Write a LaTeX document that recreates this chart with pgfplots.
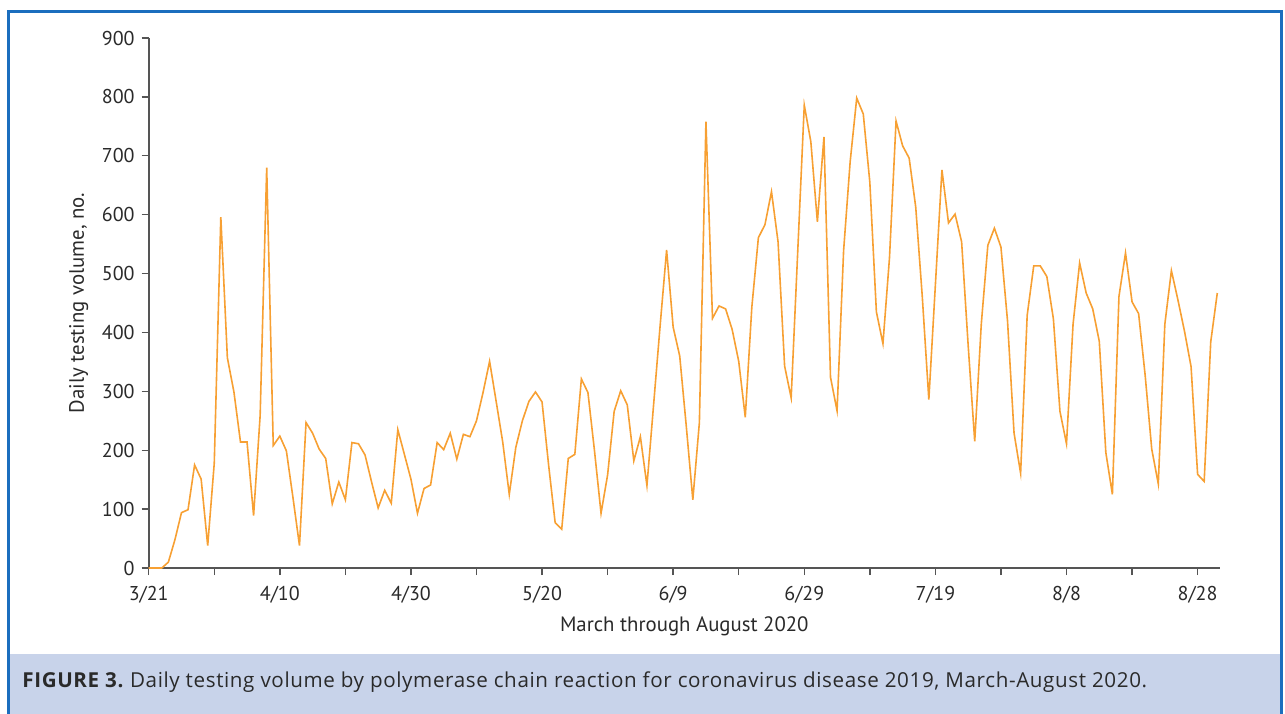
\documentclass[border=0pt]{standalone}
\usepackage{fontspec}
\setmainfont{PT Sans}
\newfontfamily\capfont[LetterSpace=3]{Open Sans}
\usepackage{pgfplots}
\pgfplotsset{compat=1.18}
\definecolor{lineOr}{HTML}{F7A033}
\definecolor{frameB}{HTML}{1B6EBE}
\definecolor{capB}{HTML}{C8D3EA}
\definecolor{axisG}{HTML}{555555}
\definecolor{txtG}{HTML}{2A2A2A}

\pgfplotstableread{
day val
0 0
1 0
2 0
3 10
4 48
5 94
6 99
7 175
8 151
9 38
10 178
11 596
12 357
13 299
14 214
15 214
16 89
17 259
18 680
19 208
20 224
21 199
22 120
23 38
24 247
25 229
26 202
27 186
28 109
29 146
30 116
31 213
32 211
33 192
34 146
35 102
36 132
37 110
38 235
39 193
40 151
41 93
42 135
43 141
44 213
45 201
46 229
47 185
48 227
49 223
50 250
51 298
52 351
53 283
54 214
55 125
56 205
57 250
58 283
59 299
60 282
61 175
62 77
63 66
64 186
65 193
66 321
67 298
68 199
69 93
70 158
71 266
72 301
73 277
74 182
75 223
76 140
77 275
78 410
79 540
80 409
81 360
82 241
83 116
84 247
85 758
86 424
87 445
88 440
89 405
90 351
91 256
92 443
93 561
94 583
95 639
96 554
97 343
98 289
99 537
100 786
101 724
102 588
103 732
104 324
105 267
106 539
107 690
108 798
109 771
110 655
111 435
112 381
113 527
114 759
115 717
116 696
117 613
118 461
119 286
120 481
121 676
122 586
123 601
124 554
125 378
126 215
127 414
128 548
129 577
130 545
131 420
132 229
133 161
134 429
135 513
136 513
137 495
138 423
139 266
140 211
141 414
142 518
143 467
144 440
145 385
146 196
147 125
148 461
149 535
150 452
151 432
152 327
153 202
154 143
155 414
156 505
157 455
158 402
159 342
160 159
161 147
162 384
163 467
}\pcrdata

\begin{document}
\begin{tikzpicture}
\useasboundingbox (0pt,0pt) rectangle (642.5pt,-356.5pt);
\clip (0pt,0pt) rectangle (642.5pt,-356.5pt);
% caption band and frame
\fill[capB] (4.75pt,-327pt) rectangle (639.75pt,-360pt);
\draw[frameB, line width=1.6pt] (4.2pt,-5.6pt) rectangle (640.6pt,-370pt);
\node[anchor=west, text=txtG, font=\capfont\fontsize{10.3}{12}\selectfont, inner sep=0pt]
  at (11pt,-340.9pt) {\textbf{FIGURE 3.}\ Daily testing volume by polymerase chain reaction for coronavirus disease 2019, March-August 2020.};

\begin{axis}[
  at={(74.35pt,-284pt)}, anchor=south west,
  scale only axis,
  width=535.6pt, height=265pt,
  xmin=0, xmax=163.4,
  ymin=0, ymax=900,
  axis lines=left,
  axis line style={draw=axisG, line width=0.8pt, -},
  ytick={0,100,...,900},
  xtick={0,20,...,160},
  xticklabels={3/21,4/10,4/30,5/20,6/9,6/29,7/19,8/8,8/28},
  minor xtick={10,30,...,150},
  tick align=outside,
  major tick length=3.5pt,
  minor tick length=3.5pt,
  tick style={draw=axisG, line width=0.7pt},
  every tick label/.append style={text=txtG, font=\fontsize{10}{12}\selectfont},
  /pgf/number format/assume math mode=true,
  xticklabel style={yshift=-2pt},
  xlabel={March through August 2020},
  ylabel={Daily testing volume, no.},
  label style={text=txtG, font=\fontsize{10.4}{12}\selectfont},
  clip=false,
]
\addplot[lineOr, line width=0.8pt, mark=none] table[x=day, y=val] {\pcrdata};
\end{axis}
\end{tikzpicture}
\end{document}
